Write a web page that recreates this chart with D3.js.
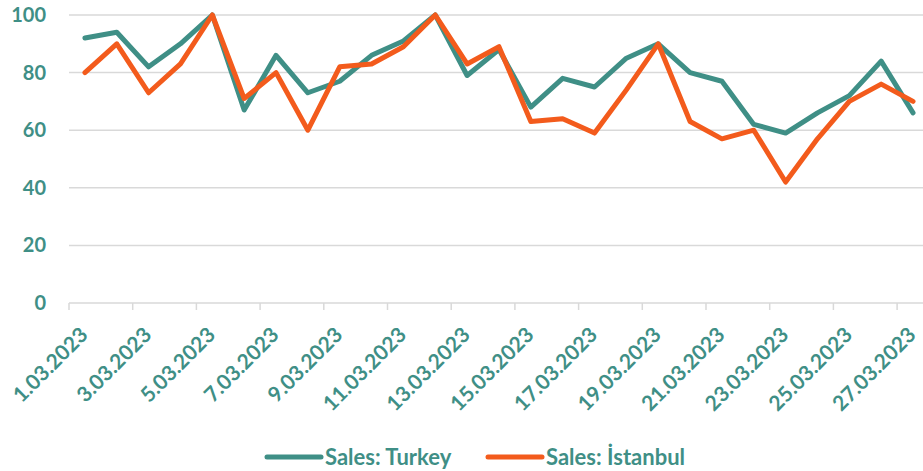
<!DOCTYPE html>
<html>
<head>
<meta charset="utf-8">
<script src="https://cdn.jsdelivr.net/npm/d3@7"></script>
<style>
  body { margin: 0; background: #fff; }
  svg { display: block; font-family: Lato, "Open Sans", sans-serif; font-weight: bold; }
</style>
</head>
<body>
<svg id="chart" width="923" height="471"></svg>
<script>
// days of March 2023
var days = ['1.03.2023', '2.03.2023', '3.03.2023', '4.03.2023', '5.03.2023', '6.03.2023', '7.03.2023',
  '8.03.2023', '9.03.2023', '10.03.2023', '11.03.2023', '12.03.2023', '13.03.2023', '14.03.2023',
  '15.03.2023', '16.03.2023', '17.03.2023', '18.03.2023', '19.03.2023', '20.03.2023', '21.03.2023',
  '22.03.2023', '23.03.2023', '24.03.2023', '25.03.2023', '26.03.2023', '27.03.2023'];

var salesTurkey = [92, 94, 82, 90, 100, 67, 86, 73, 77, 86, 91, 100, 79, 88,
  68, 78, 75, 85, 90, 80, 77, 62, 59, 66, 72, 84, 66];

var salesIstanbul = [80, 90, 73, 83, 100, 71, 80, 60, 82, 83, 89, 100, 83, 89,
  63, 64, 59, 74, 90, 63, 57, 60, 42, 57, 70, 76, 70];

var yTicks = [0, 20, 40, 60, 80, 100];

var series = [
  { name: 'Sales: Turkey', values: salesTurkey, color: '#3f8f86' },
  { name: 'Sales: İstanbul', values: salesIstanbul, color: '#f35b1c' }
];

var textColor = '#3f8f86';
var svg = d3.select('#chart');

var x = d3.scaleBand()
  .domain(days)
  .range([69, 69 + 27 * 31.85])
  .padding(0);

var y = d3.scaleLinear()
  .domain([0, 100])
  .range([303, 15]);

// gridlines
svg.append('g')
  .selectAll('line')
  .data(yTicks)
  .enter().append('line')
  .attr('x1', 69)
  .attr('x2', 923)
  .attr('y1', function(d) { return y(d); })
  .attr('y2', function(d) { return y(d); })
  .attr('stroke', '#d9d9d9')
  .attr('stroke-width', 1.5);

// y labels
svg.append('g')
  .selectAll('text')
  .data(yTicks)
  .enter().append('text')
  .attr('x', 46)
  .attr('y', function(d) { return y(d); })
  .attr('dy', '0.35em')
  .attr('text-anchor', 'end')
  .attr('fill', textColor)
  .style('font-size', '20px')
  .text(function(d) { return d; });

// tick marks at the boundaries of odd days
var labelled = days.filter(function(d, i) { return i % 2 === 0; });

svg.append('g')
  .selectAll('line')
  .data(labelled)
  .enter().append('line')
  .attr('x1', function(d) { return x(d); })
  .attr('x2', function(d) { return x(d); })
  .attr('y1', 303)
  .attr('y2', 310)
  .attr('stroke', '#d9d9d9')
  .attr('stroke-width', 1.5);

// x labels
svg.append('g')
  .selectAll('text')
  .data(labelled)
  .enter().append('text')
  .attr('transform', function(d) {
    return 'translate(' + (x(d) + x.bandwidth() / 2 - 1) + ',331) rotate(-45)';
  })
  .attr('text-anchor', 'end')
  .attr('dy', '0.35em')
  .attr('fill', textColor)
  .style('font-size', '21px')
  .text(function(d) { return d; });

// lines
var line = d3.line()
  .x(function(d, i) { return x(days[i]) + x.bandwidth() / 2; })
  .y(function(d) { return y(d); });

svg.append('g')
  .selectAll('path')
  .data(series)
  .enter().append('path')
  .attr('d', function(s) { return line(s.values); })
  .attr('fill', 'none')
  .attr('stroke', function(s) { return s.color; })
  .attr('stroke-width', 5)
  .attr('stroke-linejoin', 'round')
  .attr('stroke-linecap', 'round');

// legend
var legendX = [267, 488];
var legend = svg.append('g')
  .selectAll('g')
  .data(series)
  .enter().append('g')
  .attr('transform', function(s, i) { return 'translate(' + legendX[i] + ',457)'; });

legend.append('line')
  .attr('x1', 0)
  .attr('x2', 54)
  .attr('stroke', function(s) { return s.color; })
  .attr('stroke-width', 5)
  .attr('stroke-linecap', 'round');

legend.append('text')
  .attr('x', 58)
  .attr('dy', '0.35em')
  .attr('fill', textColor)
  .style('font-size', '22px')
  .text(function(s) { return s.name; });
</script>
</body>
</html>
